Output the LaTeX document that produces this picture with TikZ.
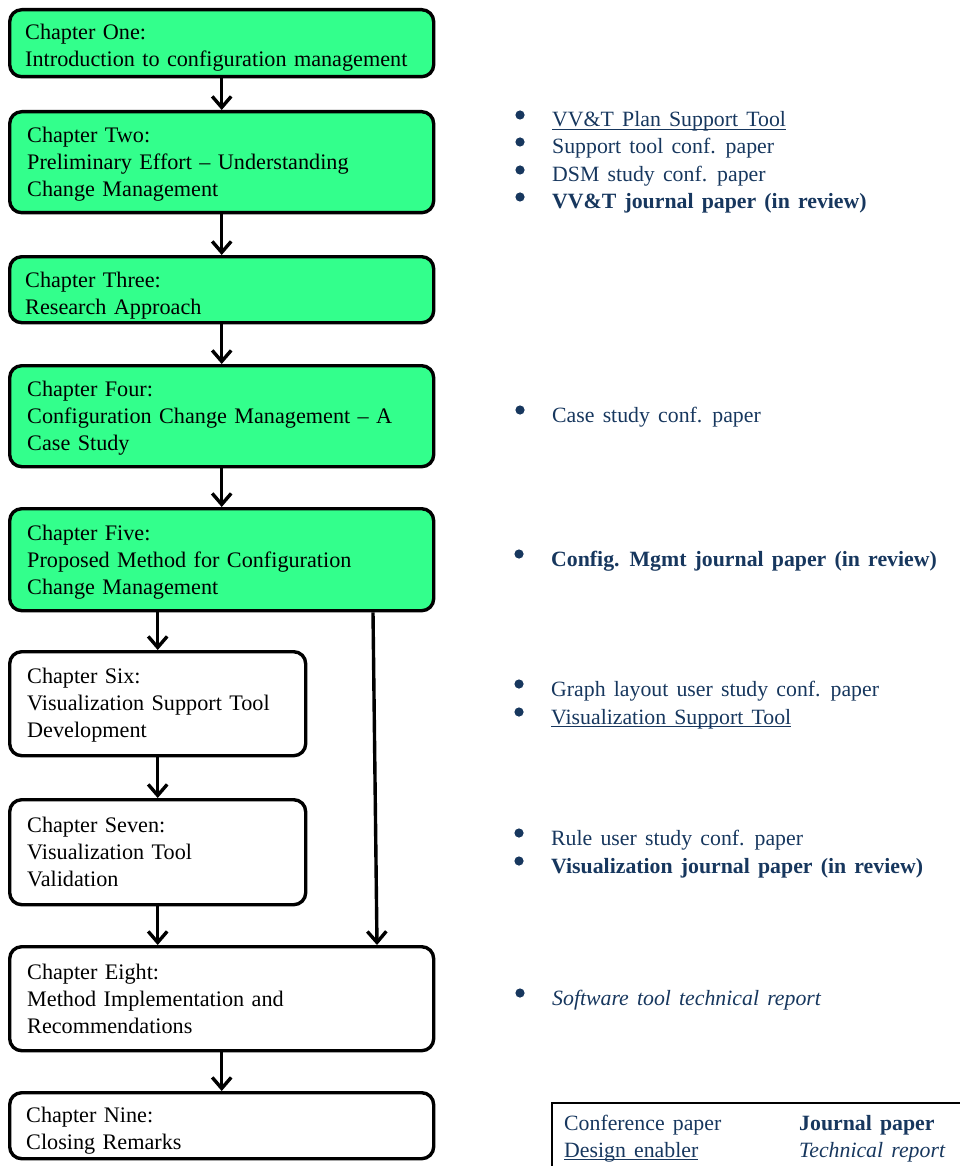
\documentclass[tikz,border=0pt]{standalone}
\usepackage{fontspec}
\setmainfont{Liberation Serif}[WordSpace=1.5]
\usetikzlibrary{arrows.meta}
\definecolor{chapgreen}{RGB}{51,255,140}
\definecolor{pubnavy}{RGB}{23,55,94}
% underline that sits just below the baseline
\newcommand\ulin[1]{\setbox0\hbox{#1}\rlap{\rule[-3pt]{\wd0}{1.1pt}}\box0}
\newcommand\chapfont{\fontsize{22.2}{27}\selectfont}
\newcommand\pubfont{\fontsize{21.8}{27}\selectfont}
\begin{document}
\begin{tikzpicture}[x=1pt,y=-1pt,
  chapbox/.style={draw,line width=3.4pt,rounded corners=12pt,anchor=north west,inner sep=0pt},
  done/.style={fill=chapgreen},
  todo/.style={fill=white},
  chaptext/.style={anchor=base west,inner sep=0pt,align=left,text width=400pt,font=\chapfont},
  pub/.style={anchor=base west,inner sep=0pt,font=\pubfont,text=pubnavy},
  flow/.style={line width=3.4pt,-{Straight Barb[length=11pt,width=19pt]}},
  bul/.style={fill=pubnavy}]
\useasboundingbox (0,0) rectangle (960,1166);

% chapter boxes
\node[chapbox,done,minimum width=424pt,minimum height=67pt]  (c1) at (8,8)    {};
\node[chapbox,done,minimum width=424pt,minimum height=101pt] (c2) at (8,110)  {};
\node[chapbox,done,minimum width=424pt,minimum height=66pt]  (c3) at (8,255)  {};
\node[chapbox,done,minimum width=424pt,minimum height=101pt] (c4) at (8,364)  {};
\node[chapbox,done,minimum width=424pt,minimum height=102pt] (c5) at (8,507)  {};
\node[chapbox,todo,minimum width=296pt,minimum height=104pt] (c6) at (8,650)  {};
\node[chapbox,todo,minimum width=296pt,minimum height=105pt] (c7) at (8,798)  {};
\node[chapbox,todo,minimum width=424pt,minimum height=104pt] (c8) at (8,945)  {};
\node[chapbox,todo,minimum width=424pt,minimum height=66pt]  (c9) at (8,1091) {};

% chapter titles
\node[chaptext] (t1) at ([xshift=17pt,yshift=-32pt]c1.north west) {Chapter One:\\Introduction to configuration management};
\node[chaptext] (t2) at ([xshift=19pt,yshift=-33pt]c2.north west) {Chapter Two:\\Preliminary Effort -- Understanding\\Change Management};
\node[chaptext] (t3) at ([xshift=17pt,yshift=-32pt]c3.north west) {Chapter Three:\\Research Approach};
\node[chaptext] (t4) at ([xshift=19pt,yshift=-32pt]c4.north west) {Chapter Four:\\Configuration Change Management -- A\\Case Study};
\node[chaptext] (t5) at ([xshift=19pt,yshift=-33pt]c5.north west) {Chapter Five:\\Proposed Method for Configuration\\Change Management};
\node[chaptext] (t6) at ([xshift=19pt,yshift=-33pt]c6.north west) {Chapter Six:\\Visualization Support Tool\\Development};
\node[chaptext] (t7) at ([xshift=19pt,yshift=-34pt]c7.north west) {Chapter Seven:\\Visualization Tool\\Validation};
\node[chaptext] (t8) at ([xshift=19pt,yshift=-34pt]c8.north west) {Chapter Eight:\\Method Implementation and\\Recommendations};
\node[chaptext] (t9) at ([xshift=18pt,yshift=-31pt]c9.north west) {Chapter Nine:\\Closing Remarks};

% flow between chapters
\draw[flow] (c1.south) -- (c2.north);
\draw[flow] (c2.south) -- (c3.north);
\draw[flow] (c3.south) -- (c4.north);
\draw[flow] (c4.south) -- (c5.north);
\draw[flow] (c6.north |- c5.south) -- (c6.north);
\draw[flow] (c6.south) -- (c7.north);
\draw[flow] (c7.south) -- (c7.south |- c8.north);
\coordinate (skipA) at ([xshift=365pt]c5.south west);
\coordinate (skipB) at ([xshift=369pt]c8.north west);
\draw[flow] (skipA) -- (skipB);
\draw[flow] (c8.south) -- (c9.north);

% publications per chapter
\node[pub] (p1) at (552,127) {\ulin{VV\&T Plan Support Tool}};
\node[pub] (p2) at (552,154) {Support tool conf. paper};
\node[pub] (p3) at (552,182) {DSM study conf. paper};
\node[pub] (p4) at (552,209) {\bfseries VV\&T journal paper (in review)};
\node[pub] (p5) at (552,422) {Case study conf. paper};
\node[pub] (p6) at (551,566) {\bfseries Config. Mgmt journal paper (in review)};
\node[pub] (p7) at (551,696) {Graph layout user study conf. paper};
\node[pub] (p8) at (551,724) {\ulin{Visualization Support Tool}};
\node[pub] (p9) at (551,845) {Rule user study conf. paper};
\node[pub] (p10) at (551,873) {\bfseries Visualization journal paper (in review)};
\node[pub] (p11) at (552,1005) {\itshape Software tool technical report};
\foreach \p in {p1,p2,p3,p4,p5,p6,p7,p8,p9,p10,p11}
  \fill[bul] (\p.base west) ++(-32,-12) circle (4.6);

% legend
\node[draw,line width=2pt,anchor=north west,inner sep=0pt,minimum width=440pt,minimum height=100pt] (key) at (551,1102) {};
\node[pub] (k1) at ([xshift=13pt,yshift=-28pt]key.north west) {Conference paper};
\node[pub] (k2) at ([xshift=13pt,yshift=-55pt]key.north west) {\ulin{Design enabler}};
\node[pub] (k3) at ([xshift=248pt,yshift=-28pt]key.north west) {\bfseries Journal paper};
\node[pub] (k4) at ([xshift=248pt,yshift=-55pt]key.north west) {\itshape Technical report};
\end{tikzpicture}
\end{document}
